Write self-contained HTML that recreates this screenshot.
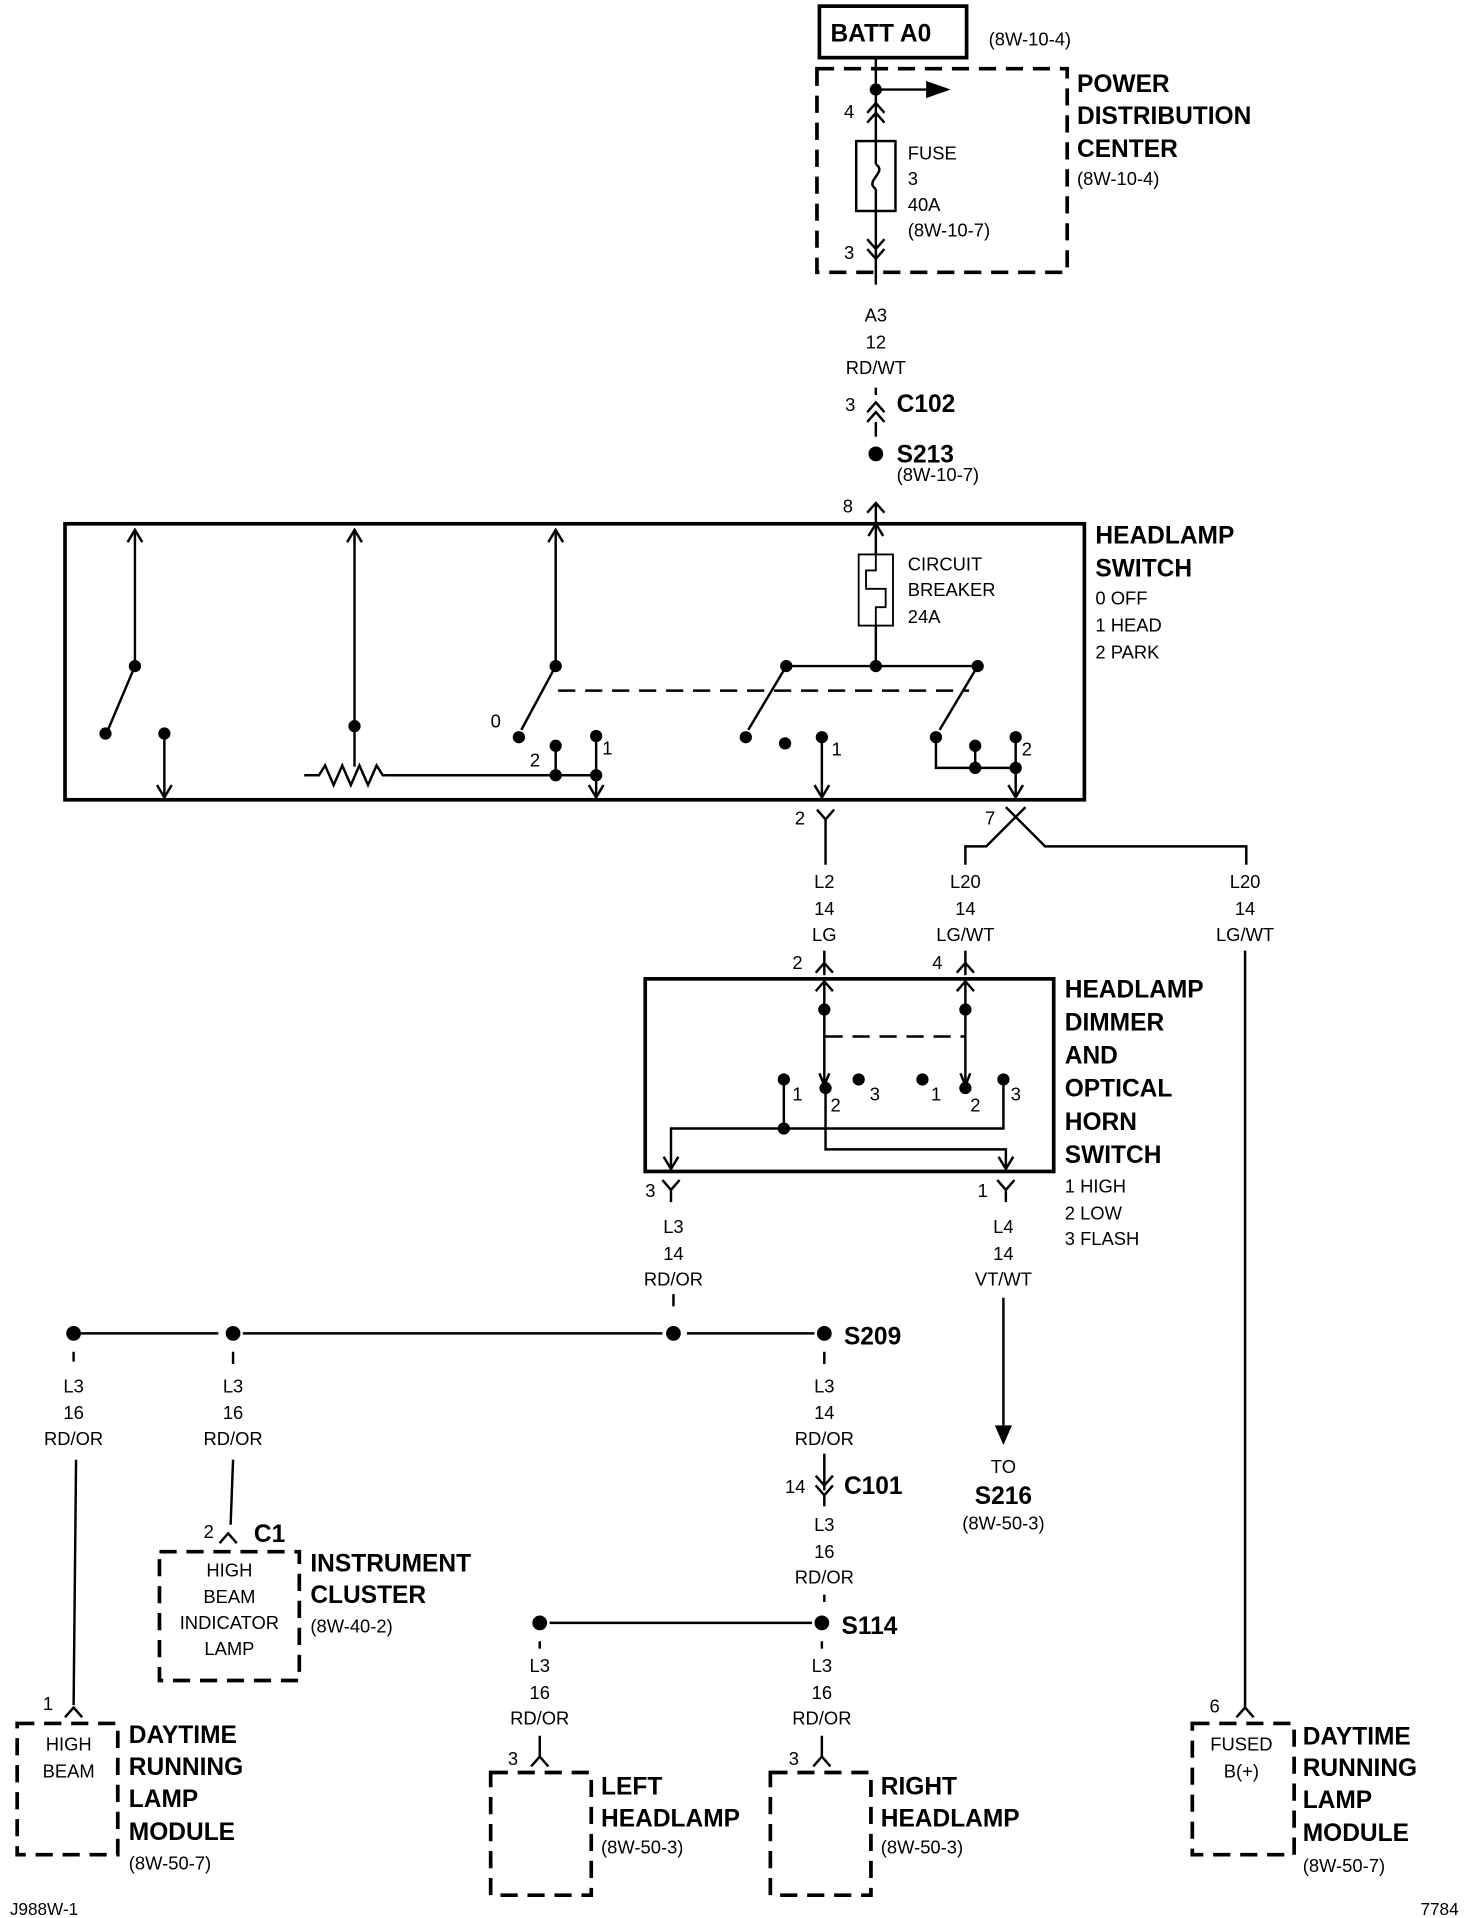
<!DOCTYPE html>
<html><head><meta charset="utf-8"><style>
html,body{margin:0;padding:0;background:#fff;}
svg{display:block;}
text{font-family:"Liberation Sans Narrow","Liberation Sans",sans-serif;fill:#000;}
.b{font-weight:bold;font-size:20px;}
.s{font-size:15px;}
.c{text-anchor:middle;}
</style></head><body>
<svg width="1472" height="1918" viewBox="0 0 1200 1563.6" xmlns="http://www.w3.org/2000/svg">
<g stroke="#000" fill="none" stroke-width="2">
<!-- BATT -->
<rect x="668" y="5" width="120" height="42" stroke-width="3"/>
<rect x="666" y="56" width="204" height="166" stroke-width="3" stroke-dasharray="14 8"/>
<line x1="714" y1="47" x2="714" y2="134"/>
<path d="M714,134 C724,140 704,148 714,154"/>
<line x1="714" y1="154" x2="714" y2="232"/>
<line x1="714" y1="73" x2="760" y2="73"/>
<path d="M707,92 L714,84 L721,92 M707,100 L714,92 L721,100"/>
<rect x="698" y="115" width="32" height="57"/>
<path d="M707,195 L714,203 L721,195 M707,203 L714,211 L721,203"/>
<line x1="714" y1="316" x2="714" y2="322"/>
<line x1="714" y1="344" x2="714" y2="356"/>
<path d="M707,336 L714,328 L721,336 M707,344 L714,336 L721,344"/>
<path d="M707,418 L714,410 L721,418"/>
<line x1="714" y1="410" x2="714" y2="427"/>
<!-- headlamp switch -->
<rect x="53" y="427" width="831" height="225" stroke-width="3"/>
<rect x="700" y="452" width="28" height="58" stroke-width="1.5"/>
<path d="M714,452 V465 H706 V480 H722 V495 H714 V510" stroke-width="1.5"/>
<path d="M708,437 L714,427 L720,437"/>
<line x1="714" y1="427" x2="714" y2="452"/>
<line x1="714" y1="510" x2="714" y2="543"/>
<line x1="641" y1="543" x2="797" y2="543"/>
<line x1="641" y1="543" x2="610" y2="595"/>
<line x1="797" y1="543" x2="766" y2="595"/>
<line x1="455" y1="563" x2="790" y2="563" stroke-dasharray="14 8"/>
<line x1="110" y1="432" x2="110" y2="543"/>
<path d="M104,442 L110,432 L116,442"/>
<line x1="110" y1="543" x2="88" y2="595"/>
<line x1="134" y1="598" x2="134" y2="650"/>
<path d="M128,640 L134,650 L140,640"/>
<line x1="289" y1="432" x2="289" y2="625"/>
<path d="M283,442 L289,432 L295,442"/>
<path d="M248,632 H260 L265,624 L272,640 L279,624 L286,640 L293,624 L300,640 L307,624 L312,632 H318"/>
<line x1="318" y1="632" x2="486" y2="632"/>
<line x1="453" y1="432" x2="453" y2="543"/>
<path d="M447,442 L453,432 L459,442"/>
<line x1="453" y1="543" x2="425" y2="595"/>
<line x1="453" y1="608" x2="453" y2="632"/>
<line x1="486" y1="600" x2="486" y2="650"/>
<path d="M480,640 L486,650 L492,640"/>
<line x1="670" y1="601" x2="670" y2="650"/>
<path d="M664,640 L670,650 L676,640"/>
<path d="M763,601 V626 H828"/>
<line x1="795" y1="608" x2="795" y2="626"/>
<line x1="828" y1="601" x2="828" y2="650"/>
<path d="M822,640 L828,650 L834,640"/>
<!-- below switch -->
<path d="M666,660 L673,668 L680,660 M673,668 V705"/>
<path d="M820,658 L852,690 H1016 V705 M836,658 L804,690 H787 V705"/>
<line x1="672" y1="775" x2="672" y2="795"/>
<line x1="787" y1="775" x2="787" y2="795"/>
<path d="M665,793 L672,785 L679,793 M780,793 L787,785 L794,793"/>
<!-- dimmer -->
<rect x="526" y="798" width="333" height="157" stroke-width="3"/>
<path d="M665,808 L672,800 L679,808 M780,808 L787,800 L794,808"/>
<line x1="672" y1="800" x2="672" y2="885"/>
<line x1="787" y1="800" x2="787" y2="885"/>
<line x1="673" y1="845" x2="787" y2="845" stroke-dasharray="14 8"/>
<path d="M668,875 L672,885 L676,875 M783,875 L787,885 L791,875"/>
<line x1="639" y1="880" x2="639" y2="920"/>
<path d="M547,953 V920 H818 V880"/>
<path d="M673,887 V937 H820 V953"/>
<path d="M541,943 L547,953 L553,943 M814,943 L820,953 L826,943"/>
<path d="M540,962 L547,970 L554,962 M547,970 V980 M813,962 L820,970 L827,962 M820,970 V980"/>
<line x1="549" y1="1055" x2="549" y2="1065"/>
<line x1="818" y1="1058" x2="818" y2="1165"/>
<!-- bus -->
<line x1="66" y1="1087" x2="178" y2="1087"/>
<line x1="198" y1="1087" x2="540" y2="1087"/>
<line x1="560" y1="1087" x2="664" y2="1087"/>
<line x1="60" y1="1102" x2="60" y2="1110"/>
<line x1="190" y1="1102" x2="190" y2="1112"/>
<line x1="672" y1="1102" x2="672" y2="1112"/>
<path d="M62,1190 L60,1390 M190,1190 L188,1243"/>
<path d="M53,1400 L60,1392 L67,1400 M179,1258 L186,1250 L193,1258"/>
<rect x="14" y="1405" width="82" height="107" stroke-width="3" stroke-dasharray="14 8"/>
<rect x="130" y="1265" width="114" height="105" stroke-width="3" stroke-dasharray="14 8"/>
<path d="M672,1185 V1215 M665,1203 L672,1211 L679,1203 M665,1211 L672,1219 L679,1211 M672,1219 V1228"/>
<line x1="672" y1="1300" x2="672" y2="1306"/>
<line x1="448" y1="1323" x2="662" y2="1323"/>
<line x1="440" y1="1338" x2="440" y2="1344"/>
<line x1="670" y1="1338" x2="670" y2="1344"/>
<path d="M440,1415 V1432 M433,1440 L440,1432 L447,1440 M670,1415 V1432 M663,1440 L670,1432 L677,1440 M1015,775 V1392 M1008,1400 L1015,1392 L1022,1400"/>
<rect x="400" y="1445" width="82" height="100" stroke-width="3" stroke-dasharray="14 8"/>
<rect x="628" y="1445" width="82" height="100" stroke-width="3" stroke-dasharray="14 8"/>
<rect x="972" y="1405" width="83" height="107" stroke-width="3" stroke-dasharray="14 8"/>
</g>
<g fill="#000">
<polygon points="775,73 755,66 755,80"/>
<circle cx="714" cy="73" r="5"/>
<circle cx="714" cy="370" r="6"/>
<circle cx="714" cy="543" r="5"/><circle cx="641" cy="543" r="5"/><circle cx="797" cy="543" r="5"/>
<circle cx="608" cy="601" r="5"/><circle cx="763" cy="601" r="5"/>
<circle cx="110" cy="543" r="5"/><circle cx="86" cy="598" r="5"/><circle cx="134" cy="598" r="5"/>
<circle cx="289" cy="592" r="5"/><circle cx="453" cy="543" r="5"/><circle cx="423" cy="601" r="5"/>
<circle cx="453" cy="608" r="5"/><circle cx="453" cy="632" r="5"/><circle cx="486" cy="600" r="5"/><circle cx="486" cy="632" r="5"/>
<circle cx="640" cy="606" r="5"/><circle cx="670" cy="601" r="5"/>
<circle cx="795" cy="608" r="5"/><circle cx="795" cy="626" r="5"/><circle cx="828" cy="601" r="5"/><circle cx="828" cy="626" r="5"/>
<circle cx="672" cy="823" r="5"/><circle cx="787" cy="823" r="5"/>
<circle cx="639" cy="880" r="5"/><circle cx="673" cy="887" r="5"/><circle cx="700" cy="880" r="5"/>
<circle cx="752" cy="880" r="5"/><circle cx="787" cy="887" r="5"/><circle cx="818" cy="880" r="5"/><circle cx="639" cy="920" r="5"/>
<circle cx="60" cy="1087" r="6"/><circle cx="190" cy="1087" r="6"/><circle cx="549" cy="1087" r="6"/><circle cx="672" cy="1087" r="6"/>
<circle cx="440" cy="1323" r="6"/><circle cx="670" cy="1323" r="6"/>
<polygon points="818,1178 811,1162 825,1162"/>
</g>
<g>
<text x="677" y="34" class="b">BATT A0</text>
<text x="806" y="37" class="s">(8W-10-4)</text>
<text x="878" y="75" class="b">POWER</text>
<text x="878" y="101" class="b">DISTRIBUTION</text>
<text x="878" y="128" class="b">CENTER</text>
<text x="878" y="151" class="s">(8W-10-4)</text>
<text x="688" y="96" class="s">4</text>
<text x="740" y="130" class="s">FUSE</text><text x="740" y="151" class="s">3</text><text x="740" y="172" class="s">40A</text><text x="740" y="193" class="s">(8W-10-7)</text>
<text x="688" y="211" class="s">3</text>
<text x="714" y="262" class="s c">A3</text><text x="714" y="284" class="s c">12</text><text x="714" y="305" class="s c">RD/WT</text>
<text x="689" y="335" class="s">3</text><text x="731" y="336" class="b">C102</text>
<text x="731" y="377" class="b">S213</text><text x="731" y="392" class="s">(8W-10-7)</text>
<text x="687" y="418" class="s">8</text>
<text x="893" y="443" class="b">HEADLAMP</text><text x="893" y="470" class="b">SWITCH</text>
<text x="893" y="493" class="s">0 OFF</text><text x="893" y="515" class="s">1 HEAD</text><text x="893" y="537" class="s">2 PARK</text>
<text x="740" y="465" class="s">CIRCUIT</text><text x="740" y="486" class="s">BREAKER</text><text x="740" y="508" class="s">24A</text>
<text x="400" y="593" class="s">0</text><text x="432" y="625" class="s">2</text><text x="491" y="615" class="s">1</text>
<text x="678" y="616" class="s">1</text><text x="833" y="616" class="s">2</text>
<text x="648" y="672" class="s">2</text><text x="803" y="672" class="s">7</text>
<text x="672" y="724" class="s c">L2</text><text x="672" y="746" class="s c">14</text><text x="672" y="767" class="s c">LG</text>
<text x="787" y="724" class="s c">L20</text><text x="787" y="746" class="s c">14</text><text x="787" y="767" class="s c">LG/WT</text>
<text x="1015" y="724" class="s c">L20</text><text x="1015" y="746" class="s c">14</text><text x="1015" y="767" class="s c">LG/WT</text>
<text x="646" y="790" class="s">2</text><text x="760" y="790" class="s">4</text>
<text x="868" y="813" class="b">HEADLAMP</text><text x="868" y="840" class="b">DIMMER</text><text x="868" y="867" class="b">AND</text>
<text x="868" y="894" class="b">OPTICAL</text><text x="868" y="921" class="b">HORN</text><text x="868" y="948" class="b">SWITCH</text>
<text x="868" y="972" class="s">1 HIGH</text><text x="868" y="994" class="s">2 LOW</text><text x="868" y="1015" class="s">3 FLASH</text>
<text x="646" y="897" class="s">1</text><text x="677" y="906" class="s">2</text><text x="709" y="897" class="s">3</text>
<text x="759" y="897" class="s">1</text><text x="791" y="906" class="s">2</text><text x="824" y="897" class="s">3</text>
<text x="526" y="976" class="s">3</text><text x="797" y="976" class="s">1</text>
<text x="549" y="1005" class="s c">L3</text><text x="549" y="1027" class="s c">14</text><text x="549" y="1048" class="s c">RD/OR</text>
<text x="818" y="1005" class="s c">L4</text><text x="818" y="1027" class="s c">14</text><text x="818" y="1048" class="s c">VT/WT</text>
<text x="688" y="1096" class="b">S209</text>
<text x="818" y="1201" class="s c">TO</text><text x="818" y="1226" class="b c">S216</text><text x="818" y="1247" class="s c">(8W-50-3)</text>
<text x="60" y="1135" class="s c">L3</text><text x="60" y="1157" class="s c">16</text><text x="60" y="1178" class="s c">RD/OR</text>
<text x="190" y="1135" class="s c">L3</text><text x="190" y="1157" class="s c">16</text><text x="190" y="1178" class="s c">RD/OR</text>
<text x="672" y="1135" class="s c">L3</text><text x="672" y="1157" class="s c">14</text><text x="672" y="1178" class="s c">RD/OR</text>
<text x="640" y="1217" class="s">14</text><text x="688" y="1218" class="b">C101</text>
<text x="672" y="1248" class="s c">L3</text><text x="672" y="1270" class="s c">16</text><text x="672" y="1291" class="s c">RD/OR</text>
<text x="686" y="1332" class="b">S114</text>
<text x="440" y="1363" class="s c">L3</text><text x="440" y="1385" class="s c">16</text><text x="440" y="1406" class="s c">RD/OR</text>
<text x="670" y="1363" class="s c">L3</text><text x="670" y="1385" class="s c">16</text><text x="670" y="1406" class="s c">RD/OR</text>
<text x="166" y="1254" class="s">2</text><text x="207" y="1257" class="b">C1</text>
<text x="187" y="1285" class="s c">HIGH</text><text x="187" y="1307" class="s c">BEAM</text><text x="187" y="1328" class="s c">INDICATOR</text><text x="187" y="1349" class="s c">LAMP</text>
<text x="253" y="1281" class="b">INSTRUMENT</text><text x="253" y="1307" class="b">CLUSTER</text><text x="253" y="1331" class="s">(8W-40-2)</text>
<text x="35" y="1394" class="s">1</text>
<text x="56" y="1427" class="s c">HIGH</text><text x="56" y="1449" class="s c">BEAM</text>
<text x="105" y="1421" class="b">DAYTIME</text><text x="105" y="1447" class="b">RUNNING</text><text x="105" y="1473" class="b">LAMP</text><text x="105" y="1500" class="b">MODULE</text><text x="105" y="1524" class="s">(8W-50-7)</text>
<text x="414" y="1439" class="s">3</text><text x="643" y="1439" class="s">3</text>
<text x="490" y="1463" class="b">LEFT</text><text x="490" y="1489" class="b">HEADLAMP</text><text x="490" y="1511" class="s">(8W-50-3)</text>
<text x="718" y="1463" class="b">RIGHT</text><text x="718" y="1489" class="b">HEADLAMP</text><text x="718" y="1511" class="s">(8W-50-3)</text>
<text x="986" y="1396" class="s">6</text>
<text x="1012" y="1427" class="s c">FUSED</text><text x="1012" y="1449" class="s c">B(+)</text>
<text x="1062" y="1422" class="b">DAYTIME</text><text x="1062" y="1448" class="b">RUNNING</text><text x="1062" y="1474" class="b">LAMP</text><text x="1062" y="1501" class="b">MODULE</text><text x="1062" y="1526" class="s">(8W-50-7)</text>
<text x="8" y="1561" style="font-size:14px">J988W-1</text>
<text x="1158" y="1561" style="font-size:14px">7784</text>
</g>
</svg>
</body></html>
